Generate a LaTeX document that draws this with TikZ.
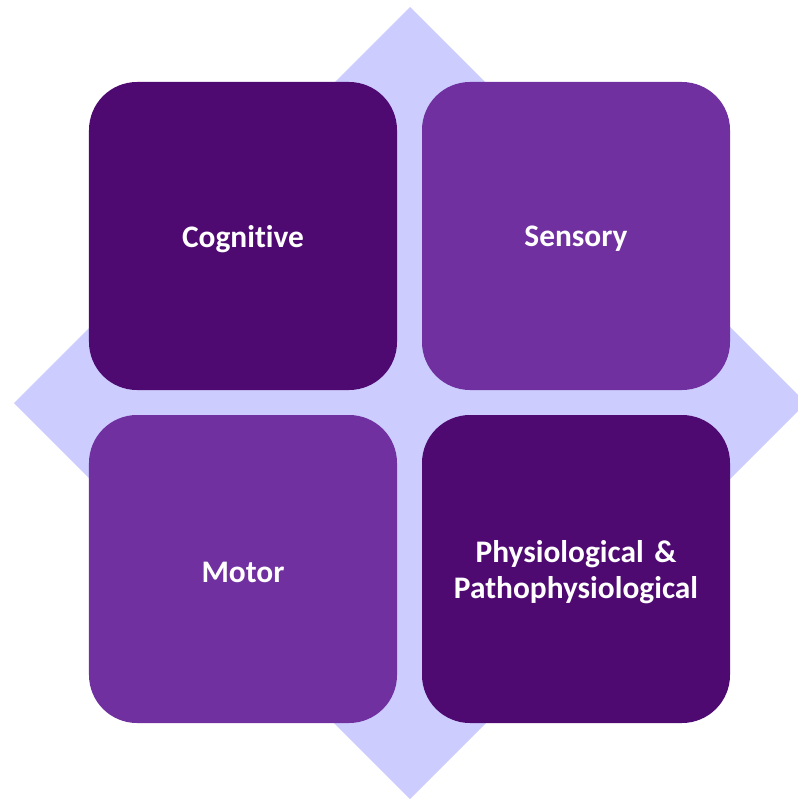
\documentclass[tikz,border=0pt]{standalone}
\usepackage{fontspec}
\setmainfont{Carlito}[Ligatures=NoCommon]
\definecolor{darkplum}{HTML}{4F0A72}
\definecolor{lightplum}{HTML}{7030A0}
\definecolor{lavender}{HTML}{CCCCFF}

\begin{document}
\begin{tikzpicture}[x=1bp,y=-1bp]

        \tikzstyle{every node}=[rectangle, rounded corners=48bp, minimum width=308bp, minimum height=308bp, inner sep=0pt, text width=290bp, align=center, text=white, font=\fontsize{31.5}{36}\selectfont\bfseries]

        \useasboundingbox (0,0) rectangle (798,799);

        % background diamond
        \fill[lavender] (410,7) -- (806,403) -- (410,799) -- (14,403) -- cycle;

        \foreach \x / \y / \c / \n / \t in {243/236/darkplum/cognitive/{Cognitive},
                                           576/236/lightplum/sensory/{Sensory},
                                           243/569/lightplum/motor/{Motor},
                                           576/569/darkplum/physio/{Physiological \&\\Pathophysiological}} {
            \node[fill=\c] (\n) at (\x,\y) {\raisebox{-3bp}[\height][\depth]{\parbox{290bp}{\centering\t}}};
        }

    \end{tikzpicture}
\end{document}
